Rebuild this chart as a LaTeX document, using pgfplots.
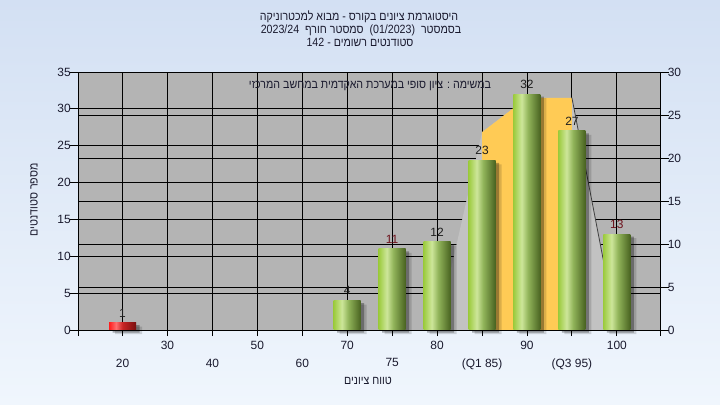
\documentclass[border=0pt]{standalone}
\usepackage{fontspec}
\setmainfont{Liberation Sans}
\newfontfamily\heb[Script=Hebrew,FakeStretch=0.89]{Liberation Sans}
\usepackage{pgfplots}
\usepackage{pgfplotstable}
\pgfplotsset{compat=1.18}
\TeXXeTstate=1

\definecolor{bgtop}{RGB}{211,224,243}
\definecolor{bgbot}{RGB}{240,246,253}
\definecolor{plotgray}{RGB}{180,180,180}
\definecolor{polygray}{RGB}{194,194,194}
\definecolor{iqr}{RGB}{255,203,85}
\definecolor{txt}{RGB}{26,26,46}
\definecolor{lblk}{RGB}{30,30,30}
\definecolor{lred}{RGB}{110,20,30}
\definecolor{gA}{RGB}{156,203,62}
\definecolor{gB}{RGB}{205,230,154}
\definecolor{gC}{RGB}{145,180,90}
\definecolor{gD}{RGB}{72,98,32}
\definecolor{rA}{RGB}{255,28,28}
\definecolor{rB}{RGB}{255,110,110}
\definecolor{rC}{RGB}{200,36,36}
\definecolor{rD}{RGB}{120,16,16}

\pgfdeclarehorizontalshading{greenbar}{100bp}{color(0bp)=(gA); color(25bp)=(gA); color(40bp)=(gB); color(52bp)=(gC); color(75bp)=(gD); color(100bp)=(gD)}
\pgfdeclarehorizontalshading{redbar}{100bp}{color(0bp)=(rA); color(25bp)=(rA); color(38bp)=(rB); color(50bp)=(rC); color(75bp)=(rD); color(100bp)=(rD)}

% counts per grade bin (left axis), bins at 0..11 = 20,30,...,100
\pgfplotstableread{
x y
0 1
5 4
6 11
7 12
8 23
9 32
10 27
11 13
}\alldata
% envelope on the right axis
\pgfplotstableread{
x y
7 0
8 23
9 27
10 27
11 0
}\envelope
\pgfplotstableread{
x y
8 0
8 23
9 27
10 27
10 0
}\quartiles

\pgfplotsset{
  frame/.style={
    scale only axis, width=581.5bp, height=258bp,
    at={(78.5bp,75bp)}, anchor=south west,
    xmin=-0.98, xmax=11.96, ymin=0,
    enlargelimits=false,
    ticklabel style={font=\fontsize{12}{12}\selectfont, text=txt},
    /pgf/number format/assume math mode=true,
    tick align=outside,
    tick style={black, line width=0.9bp},
    axis line style={black, line width=0.9bp},
  },
  bar/.style 2 args={ybar, bar width=27bp, bar shift=0pt, draw=none, shading=#1,
    nodes near coords,
    nodes near coords style={font=\fontsize{12}{12}\selectfont, anchor=south, yshift=2bp, text=#2}},
}

\begin{document}
\begin{tikzpicture}
\shade[top color=bgtop, bottom color=bgbot] (0,0) rectangle (720bp,405bp);

% grey plot area with the left-axis grid
\begin{axis}[frame, ymax=35,
  axis background/.style={fill=plotgray},
  xtick={0,...,11}, ytick={0,5,...,35},
  xticklabels={}, yticklabels={},
  major tick length=0pt,
  grid=major, grid style={black, line width=0.9bp}]
\end{axis}

% right axis with its own grid and the envelope
\begin{axis}[frame, ymax=30,
  axis x line=none, axis y line*=right,
  ytick={0,5,...,30},
  ymajorgrids, grid style={black, line width=0.9bp},
  ytick style={/pgfplots/major tick length=9bp}]
  \addplot[fill=polygray, draw=none] table {\envelope};
  \addplot[fill=iqr, draw=none] table {\quartiles};
  \addplot[draw=black!75, line width=0.8bp] coordinates {(10,27) (11,0)};
\end{axis}

% bars, left axis and the bins
\begin{axis}[frame, ymax=35, clip=false,
  axis x line*=bottom, axis y line*=left,
  ytick={0,5,...,35},
  ytick style={/pgfplots/major tick length=9bp},
  xtick style={/pgfplots/major tick length=6bp},
  xtick={-0.98,0,2,4,6,8,10,11.96},
  xticklabels={,20,40,60,75,(Q1 85),(Q3 95),},
  xticklabel style={yshift=-21bp},
  extra x ticks={1,3,5,7,9,11},
  extra x tick labels={30,50,70,80,90,100},
  extra x tick style={xticklabel style={yshift=18bp}}]
  \addplot[ybar, bar width=27bp, bar shift=6bp, yshift=-4bp, draw=none, fill=black, fill opacity=0.14] table {\alldata};
  \addplot[ybar, bar width=27bp, bar shift=3.5bp, yshift=-2.5bp, draw=none, fill=black, fill opacity=0.3] table {\alldata};
  \addplot[bar={redbar}{lblk}] coordinates {(0,1)};
  \addplot[bar={greenbar}{lblk}] coordinates {(5,4)};
  \addplot[bar={greenbar}{lred}] coordinates {(6,11)};
  \addplot[bar={greenbar}{lblk}] coordinates {(7,12)};
  \addplot[bar={greenbar}{lblk}] coordinates {(8,23)};
  \addplot[bar={greenbar}{lblk}] coordinates {(9,32)};
  \addplot[bar={greenbar}{lblk}] coordinates {(10,27)};
  \addplot[bar={greenbar}{lred}] coordinates {(11,13)};
\end{axis}

\begin{scope}[every node/.style={text=txt, inner sep=0pt}]
\node[font=\fontsize{12}{12}\selectfont\heb] at (359bp,388bp) {\beginR היסטוגרמת ציונים בקורס - מבוא למכטרוניקה\endR};
\node[font=\fontsize{12}{12}\selectfont\heb] at (361bp,375bp) {\beginR בסמסטר~ \beginL(01/2023)\endL{}~ סמסטר חורף~ \beginL 2023/24\endL\endR};
\node[font=\fontsize{12}{12}\selectfont\heb] at (360bp,363bp) {\beginR סטודנטים רשומים - \beginL 142\endL\endR};
\node[font=\fontsize{12}{12}\selectfont\heb] at (370bp,319bp) {\beginR במשימה : ציון סופי במערכת האקדמית במחשב המרכזי\endR};
\node[font=\fontsize{12}{12}\selectfont\heb, rotate=90] at (34bp,205bp) {\beginR מספר סטודנטים\endR};
\node[font=\fontsize{12}{12}\selectfont\heb] at (368bp,24bp) {\beginR טווח ציונים\endR};
\end{scope}

\pgfresetboundingbox
\useasboundingbox (0,0) rectangle (720bp,405bp);
\end{tikzpicture}
\end{document}
